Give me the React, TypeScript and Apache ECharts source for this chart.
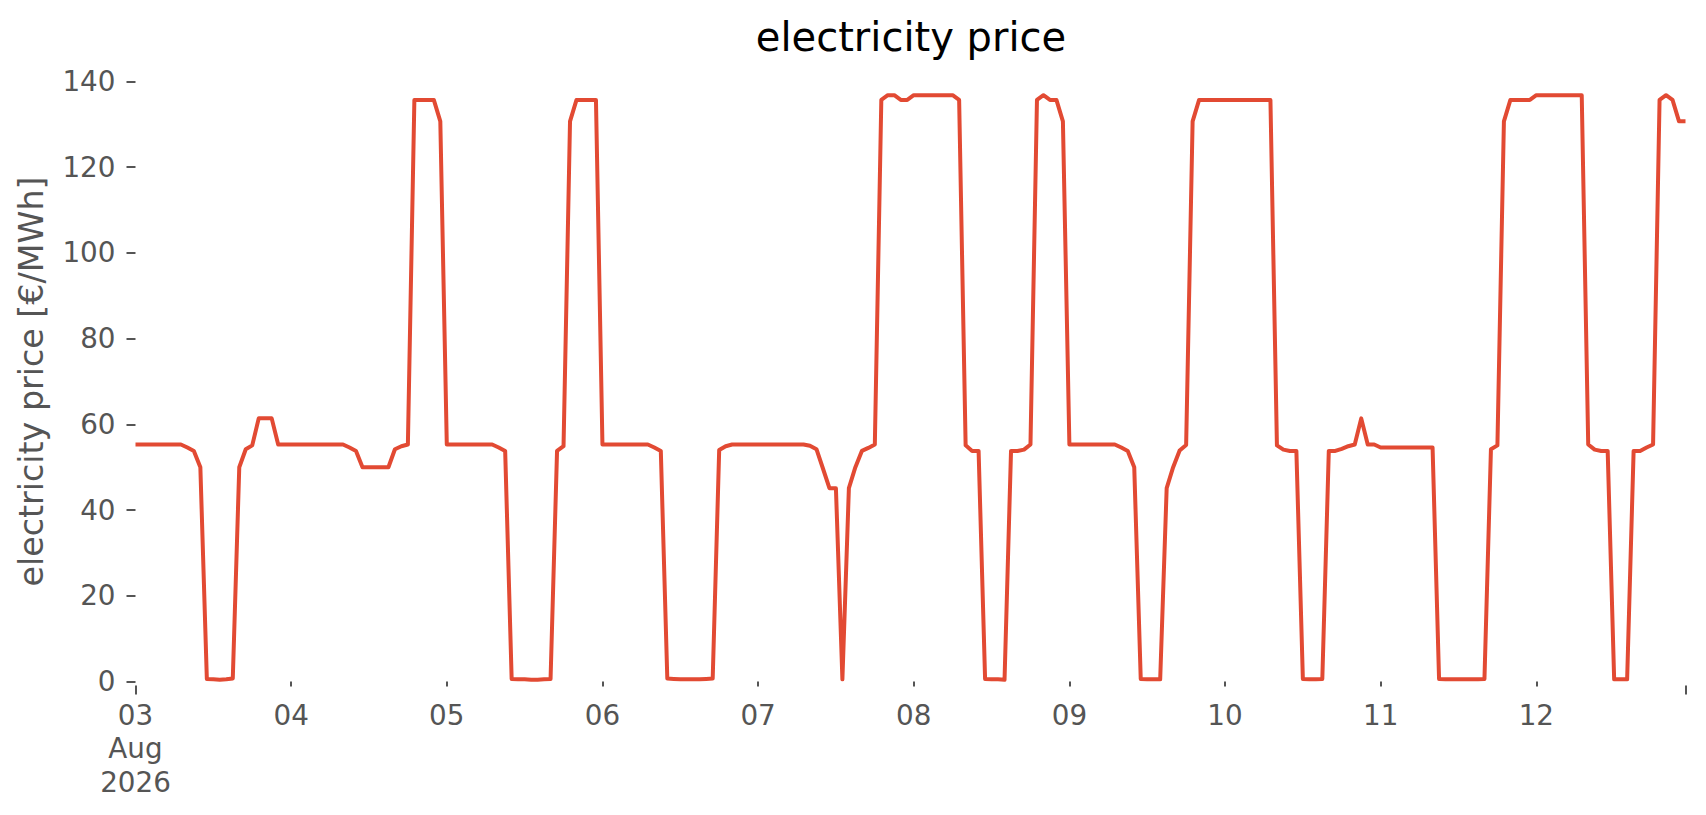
import React, { useEffect, useRef } from "react";
import * as echarts from "echarts";

// Hourly electricity price, 03 Aug 2026 00:00 .. 12 Aug 2026 23:00 (one row per day)
const prices: number[] = [
  // 03 Aug
  55.3, 55.3, 55.3, 55.3, 55.3, 55.3, 55.3, 55.3, 54.6, 53.8, 50.0, 0.6,
  0.5, 0.4, 0.5, 0.7, 50.0, 54.2, 55.1, 61.4, 61.4, 61.4, 55.3, 55.3,
  // 04 Aug
  55.3, 55.3, 55.3, 55.3, 55.3, 55.3, 55.3, 55.3, 55.3, 54.6, 53.8, 50.0,
  50.0, 50.0, 50.0, 50.0, 54.2, 54.9, 55.3, 135.7, 135.7, 135.7, 135.7, 130.7,
  // 05 Aug
  55.3, 55.3, 55.3, 55.3, 55.3, 55.3, 55.3, 55.3, 54.6, 53.8, 0.6, 0.5,
  0.5, 0.4, 0.4, 0.5, 0.6, 53.8, 54.9, 130.7, 135.7, 135.7, 135.7, 135.7,
  // 06 Aug
  55.3, 55.3, 55.3, 55.3, 55.3, 55.3, 55.3, 55.3, 54.6, 53.8, 0.7, 0.6,
  0.5, 0.5, 0.5, 0.5, 0.6, 0.7, 54.0, 54.9, 55.3, 55.3, 55.3, 55.3,
  // 07 Aug
  55.3, 55.3, 55.3, 55.3, 55.3, 55.3, 55.3, 55.3, 55.0, 54.2, 49.7, 45.1,
  45.1, 0.5, 45.1, 50.0, 53.8, 54.5, 55.3, 135.7, 136.8, 136.8, 135.7, 135.7,
  // 08 Aug
  136.8, 136.8, 136.8, 136.8, 136.8, 136.8, 136.8, 135.7, 55.1, 53.8, 53.8, 0.6,
  0.5, 0.5, 0.4, 53.8, 53.8, 54.1, 55.3, 135.7, 136.8, 135.7, 135.7, 130.7,
  // 09 Aug
  55.3, 55.3, 55.3, 55.3, 55.3, 55.3, 55.3, 55.3, 54.6, 53.8, 50.0, 0.6,
  0.5, 0.5, 0.5, 45.1, 50.0, 53.9, 55.2, 130.7, 135.7, 135.7, 135.7, 135.7,
  // 10 Aug
  135.7, 135.7, 135.7, 135.7, 135.7, 135.7, 135.7, 135.7, 55.1, 54.1, 53.8, 53.8,
  0.6, 0.5, 0.5, 0.6, 53.8, 53.8, 54.3, 54.9, 55.3, 61.4, 55.3, 55.3,
  // 11 Aug
  54.6, 54.6, 54.6, 54.6, 54.6, 54.6, 54.6, 54.6, 54.6, 0.6, 0.5, 0.5,
  0.5, 0.5, 0.5, 0.5, 0.6, 54.2, 55.1, 130.7, 135.7, 135.7, 135.7, 135.7,
  // 12 Aug
  136.8, 136.8, 136.8, 136.8, 136.8, 136.8, 136.8, 136.8, 55.3, 54.1, 53.8, 53.8,
  0.5, 0.5, 0.5, 53.8, 53.8, 54.6, 55.3, 135.7, 136.8, 135.7, 130.7, 130.7,
];

const START_YEAR = 2026;
const START_MONTH = 7; // August (0-based)
const START_DAY = 3;
const DAY_COUNT = 10;
const MONTH_LABEL = "Aug";
const YEAR_LABEL = "2026";
const yTicks: number[] = [0, 20, 40, 60, 80, 100, 120, 140];

const TITLE = "electricity price";
const Y_NAME = "electricity price [€/MWh]";
const LINE_COLOR = "#E24A33";
const TEXT_COLOR = "#555555";
const FONT = "DejaVu Sans";

const HOUR_MS = 3600 * 1000;
const startMs = new Date(START_YEAR, START_MONTH, START_DAY, 0, 0, 0).getTime();
const times: number[] = prices.map((_, i) => startMs + i * HOUR_MS);
const dayStarts: number[] = Array.from({ length: DAY_COUNT }, (_, d) =>
  new Date(START_YEAR, START_MONTH, START_DAY + d, 0, 0, 0).getTime()
);
const endMs = times[times.length - 1];

function pad2(n: number): string {
  return n < 10 ? "0" + n : String(n);
}

export default function App() {
  const ref = useRef<HTMLDivElement | null>(null);

  useEffect(() => {
    if (!ref.current) return;
    const chart = echarts.init(ref.current, undefined, { renderer: "svg" });
    const option: any = {
      animation: false,
      backgroundColor: "#ffffff",
      title: {
        text: TITLE,
        left: 911,
        top: 13,
        padding: 0,
        textAlign: "center",
        textStyle: {
          fontFamily: FONT,
          fontSize: 40,
          fontWeight: "normal",
          color: "#000000",
          lineHeight: 48,
        },
      },
      grid: {
        left: 135.5,
        right: 20.5,
        top: 81.5,
        bottom: 133.5,
        containLabel: false,
      },
      xAxis: [
        {
          type: "value",
          position: "bottom",
          min: startMs,
          max: endMs,
          offset: 4,
          axisLine: { show: false },
          splitLine: { show: false },
          axisTick: {
            show: true,
            customValues: dayStarts.slice(1),
            length: 5,
            lineStyle: { color: TEXT_COLOR, width: 2 },
          },
          axisLabel: {
            show: true,
            customValues: dayStarts,
            hideOverlap: false,
            margin: 13,
            fontFamily: FONT,
            fontSize: 27.8,
            lineHeight: 33.4,
            color: TEXT_COLOR,
            formatter: (value: number) => {
              const d = new Date(value);
              const dd = pad2(d.getDate());
              if (value === dayStarts[0]) {
                return dd + "\n" + MONTH_LABEL + "\n" + YEAR_LABEL;
              }
              return dd;
            },
          },
        },
        {
          type: "value",
          position: "bottom",
          min: startMs,
          max: endMs,
          offset: 4,
          axisLine: { show: false },
          splitLine: { show: false },
          axisTick: {
            show: true,
            customValues: [startMs, endMs],
            length: 9,
            lineStyle: { color: TEXT_COLOR, width: 2 },
          },
          axisLabel: { show: false },
        },
      ],
      yAxis: {
        type: "value",
        min: yTicks[0],
        max: yTicks[yTicks.length - 1],
        interval: yTicks[1] - yTicks[0],
        axisLine: { show: false },
        splitLine: { show: false },
        axisTick: {
          show: true,
          length: 9,
          lineStyle: { color: TEXT_COLOR, width: 2 },
        },
        axisLabel: {
          margin: 20,
          fontFamily: FONT,
          fontSize: 27.8,
          color: TEXT_COLOR,
        },
        name: Y_NAME,
        nameLocation: "middle",
        nameRotate: 90,
        nameGap: 80,
        nameTextStyle: {
          fontFamily: FONT,
          fontSize: 33.3,
          color: TEXT_COLOR,
          lineHeight: 40,
        },
      },
      series: [
        {
          type: "line",
          xAxisIndex: 0,
          data: times.map((t, i) => [t, prices[i]]),
          showSymbol: false,
          symbol: "none",
          lineStyle: { color: LINE_COLOR, width: 4, join: "round" },
          itemStyle: { color: LINE_COLOR },
          emphasis: { disabled: true },
        },
      ],
    };
    chart.setOption(option);
    return () => {
      chart.dispose();
    };
  }, []);

  return (
    <div
      ref={ref}
      style={{
        position: "fixed",
        left: 0,
        top: 0,
        width: 1706,
        height: 815,
        background: "#ffffff",
      }}
    />
  );
}
